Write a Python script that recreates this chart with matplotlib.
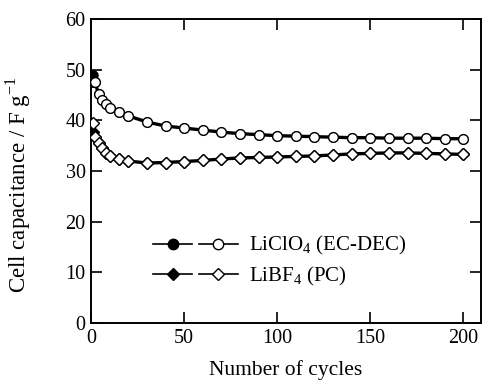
import matplotlib
matplotlib.use('Agg')
import matplotlib.pyplot as plt
from matplotlib.legend_handler import HandlerTuple

plt.rcParams['font.family'] = ['Liberation Serif', 'DejaVu Serif']
plt.rcParams['mathtext.fontset'] = 'custom'
plt.rcParams['mathtext.rm'] = 'Liberation Serif'

# cycle numbers
cycles = [1, 2, 4, 6, 8, 10, 15, 20, 30, 40, 50, 60, 70, 80, 90, 100,
          110, 120, 130, 140, 150, 160, 170, 180, 190, 200]

# LiClO4 (EC-DEC)
clo4_filled = [48.9, 47.6, 45.3, 44.0, 43.2, 42.5, 41.7, 40.9, 39.7, 38.9, 38.5, 38.1,
               37.7, 37.4, 37.2, 37.0, 36.9, 36.8, 36.7, 36.6, 36.6, 36.5, 36.5, 36.5, 36.4, 36.4]
clo4_open = [47.6, 47.6, 45.3, 44.0, 43.2, 42.5, 41.7, 40.9, 39.7, 38.9, 38.5, 38.1,
             37.7, 37.4, 37.2, 37.0, 36.9, 36.8, 36.7, 36.6, 36.6, 36.5, 36.5, 36.5, 36.4, 36.4]

# LiBF4 (PC)
bf4_filled = [37.8, 36.8, 35.5, 34.5, 33.6, 33.0, 32.4, 32.0, 31.6, 31.7, 31.9, 32.1,
              32.4, 32.6, 32.7, 32.8, 32.9, 33.0, 33.2, 33.4, 33.5, 33.6, 33.6, 33.5, 33.4, 33.3]
bf4_open = [39.4, 36.8, 35.5, 34.5, 33.6, 33.0, 32.4, 32.0, 31.6, 31.7, 31.9, 32.1,
            32.4, 32.6, 32.7, 32.8, 32.9, 33.0, 33.2, 33.4, 33.5, 33.6, 33.6, 33.5, 33.4, 33.3]

fig = plt.figure(figsize=(4.82, 3.82), dpi=100)
ax = fig.add_axes([0.189, 0.154, 0.809, 0.796])

ax.plot(cycles, clo4_filled, '-', color='black', lw=2.4, marker='o', ms=6.5,
        mfc='black', mec='black', zorder=2)
ax.plot(cycles, clo4_open, '-', color='black', lw=1.2, marker='o', ms=7,
        mfc='white', mec='black', mew=1.0, zorder=3)
ax.plot(cycles, bf4_filled, '-', color='black', lw=2.4, marker='D', ms=6,
        mfc='black', mec='black', zorder=2)
ax.plot(cycles, bf4_open, '-', color='black', lw=1.2, marker='D', ms=6.5,
        mfc='white', mec='black', mew=1.0, zorder=3)

ax.set_xlim(0, 209.5)
ax.set_ylim(0, 60)
ax.set_xticks([0, 50, 100, 150, 200])
ax.set_yticks([0, 10, 20, 30, 40, 50, 60])
ax.tick_params(direction='in', length=8, width=1.2, labelsize=14.5,
               top=True, right=True, pad=4)
for s in ax.spines.values():
    s.set_linewidth(1.4)

ax.set_xlabel('Number of cycles', fontsize=15.5, labelpad=9)
ax.set_ylabel('Cell capacitance / F g$^{\\mathregular{-1}}$', fontsize=16.5)
ax.yaxis.set_label_coords(-0.15, 0.455)

# legend handles: thin-line copies so they read like the reference key
h1, = ax.plot([], [], '-', color='black', lw=1.2, marker='o', ms=7.5, mfc='black', mec='black')
h2, = ax.plot([], [], '-', color='black', lw=1.2, marker='o', ms=7.5, mfc='white', mec='black')
h3, = ax.plot([], [], '-', color='black', lw=1.2, marker='D', ms=6, mfc='black', mec='black')
h4, = ax.plot([], [], '-', color='black', lw=1.2, marker='D', ms=6, mfc='white', mec='black')

ax.legend([(h1, h2), (h3, h4)],
          ['LiClO$_\\mathregular{4}$ (EC-DEC)', 'LiBF$_\\mathregular{4}$ (PC)'],
          handler_map={tuple: HandlerTuple(ndivide=None, pad=0.3)},
          handlelength=4.1, frameon=False, fontsize=15, loc='lower left',
          bbox_to_anchor=(0.11, 0.055), labelspacing=0.35, handletextpad=0.5)

plt.savefig('out.png', dpi=100)
plt.close()
